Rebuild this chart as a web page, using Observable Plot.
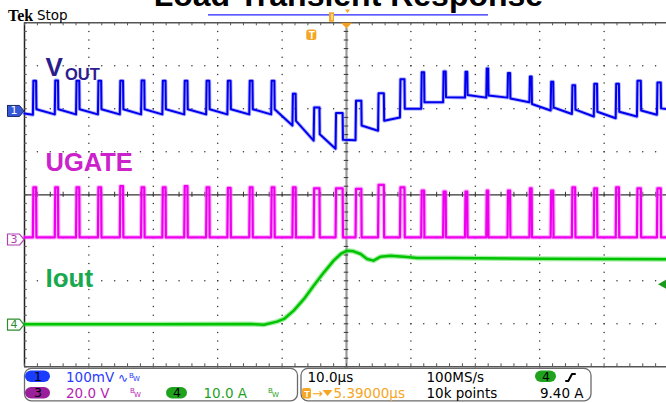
<!DOCTYPE html>
<html><head><meta charset="utf-8">
<script src="https://cdn.jsdelivr.net/npm/d3@7"></script>
<script src="https://cdn.jsdelivr.net/npm/@observablehq/plot@0.6"></script>
<style>html,body{margin:0;padding:0;background:#fff;overflow:hidden}</style>
</head><body><div id="chart"></div>
<script>
// ---------- DATA (read from the scope screen) ----------
// switching edges (µs, relative to screen centre) and UGATE on-time per pulse (µs)
const edgeT = [-48.7,-45.3,-42.0,-38.6,-35.2,-31.9,-28.6,-25.2,-21.8,-18.5,-15.1,-11.7,-8.4,-5.1,-1.7,
               1.4,4.9,8.3,11.6,15.0,18.4,21.7,25.0,28.4,31.7,35.0,38.4,41.8,45.1,48.2];
const onT   = [0.5,0.5,0.5,0.5,0.5,0.5,0.5,0.5,0.5,0.5,0.5,0.5,0.5,0.9,1.1,
               0.9,0.9,0.7,0.45,0.4,0.35,0.3,0.4,0.35,0.4,0.5,0.5,0.5,0.6,0.6];
// VOUT (ch1, 100 mV/div): level before each edge, spike peak, level after spike (mV)
const voutPre  = [-9,-8,-8,-8,-8,-8,-8,-8,-8,-8,-8,-8,-34,-69,-88,-68,-46,-15,5,20,31,31,31,20,1,-7,-13,-17,-13,-9];
const voutPeak = [70,71,70,70,70,71,70,70,70,70,70,70,40,8,-5,24,41,74,90,92,91,99,88,80,68,60,63,63,70,66];
const voutPost = [4,4,4,4,4,4,4,4,4,4,4,4,-23,-54,-67,-34,-23,5,20,32,37,36,29,16,8,3,-2,-2,1,6];
const voutStart = -6, voutEnd = 4;
// UGATE (ch3, 20 V/div): high level of each pulse (V), low level (V)
const ugHigh = [24.3,24.3,24.3,24.3,24.8,24.3,24.3,24.8,24.3,24.0,24.3,24.3,24.3,23.8,23.8,
                23.6,25.4,24.3,22.8,22.3,22.3,22.8,22.8,23.8,22.8,24.3,23.8,24.3,23.8,23.8];
const ugLow = 1.0;
// Iout (ch4, 10 A/div)
const ioutT = [-50,-30,-14.9,-12.8,-10.8,-9.7,-8.2,-6.6,-5.1,-3.5,-2.0,-0.9,0.1,1.1,2.2,3.2,4.2,5.3,6.8,8.9,11.0,16.1,30,50];
const ioutA = [0.1,0.1,0.16,0.0,0.7,1.33,3.26,5.98,9.07,12.17,14.89,16.44,17.21,17.05,16.44,15.28,14.89,15.82,16.05,15.82,15.51,15.51,15.3,15.2];
// channel settings
const ch1 = {scale: 100, offset: 1.95};   // mV/div, divisions
const ch3 = {scale: 20, offset: -1.04};   // V/div
const ch4 = {scale: 10, offset: -3.02};   // A/div
const trigOffset = -5.39;                 // µs
const trigLevel = 9.40;                   // A
const gridT = [-40,-30,-20,-10,10,20,30,40];
const gridV = [-3,-2,-1,1,2,3];

// ---------- build traces ----------
function pulseTrain(pre, peak, post, start, end) {
  const pts = [{t: -50, v: start}];
  edgeT.forEach((e, i) => {
    pts.push({t: e, v: pre[i]});
    pts.push({t: e + 0.08, v: peak[i]});
    pts.push({t: e + onT[i], v: peak[i]});
    pts.push({t: e + onT[i] + 0.05, v: post[i]});
  });
  pts.push({t: 50, v: end});
  return pts;
}
const voutPts = pulseTrain(voutPre, voutPeak, voutPost, voutStart, voutEnd);
const lows = edgeT.map(() => ugLow);
const ugPts = pulseTrain(lows, ugHigh, lows, ugLow, ugLow);
const ioutPts = ioutT.map((t, i) => ({t, v: ioutA[i]}));

const minorT = d3.range(-50, 50.001, 2);
const minorV = d3.range(-4, 4.001, 0.2);
// dot positions along each grid line (one every 1/5 division)
const gridDotsV = gridT.flatMap(t => minorV.map(v => ({t, v})));
const gridDotsH = gridV.flatMap(v => minorT.map(t => ({t, v})));

// screen helpers for the scope's chrome (pixel -> screen units)
const X = px => (px - 346) / 6.44;
const Y = py => (194.3 - py) / 43;

const SANS = "Liberation Sans, Arial, sans-serif";
const DJ = "DejaVu Sans, sans-serif";
const txt = (s, t, v, o = {}) => Plot.text([s], {x: t, y: v, text: d => d, textAnchor: "start", lineAnchor: "bottom",
  fontFamily: DJ, fontSize: 13.5, fill: "#000", ...o});
const poly = (pts, o) => Plot.line(pts.map(([a, b]) => ({t: a, v: b})), {x: "t", y: "v", stroke: "none", ...o});
const box = (x1, x2, y1, y2, o) => Plot.rect([0], {x1, x2, y1, y2, ...o});
function marker(off, label, o) {
  const c = off, h = 5.5 / 43, l = X(7), r = X(19), tip = X(23.5);
  return [
    poly([[l, c + h], [r, c + h], [tip, c], [r, c - h], [l, c - h], [l, c + h]], o.shape),
    txt(label, X(13.5), c, {textAnchor: "middle", lineAnchor: "middle", fontSize: 11, fill: o.text})
  ];
}
function oval(x1, x2, y1, y2, fill, label) {
  return [box(X(x1), X(x2), Y(y1), Y(y2), {rx: 6, fill}),
          txt(label, X((x1 + x2) / 2), Y((y1 + y2) / 2), {textAnchor: "middle", lineAnchor: "middle", fontSize: 12.5})];
}
const bw = (px, row, fill) => [
  txt("B", X(px), Y(row === 1 ? 377 : 392.5), {fontSize: 7, fill}),
  txt("W", X(px + 4), Y(row === 1 ? 380.5 : 396.5), {fontSize: 7, fill})
];
const R1 = Y(381), R2 = Y(397.3);
const ORANGE = "#f5a623";

const chart = Plot.plot({
  width: 666, height: 403, margin: 0,
  x: {domain: [-50, 50], range: [24, 668], axis: null},
  y: {domain: [-4, 4], range: [366.3, 22.3], axis: null},
  marks: [
    // graticule: dotted division lines
    Plot.dot(gridDotsV, {x: "t", y: "v", r: 0.75, fill: "#333", stroke: "none"}),
    Plot.dot(gridDotsH, {x: "t", y: "v", r: 0.75, fill: "#333", stroke: "none"}),
    Plot.ruleX([0], {y1: -4, y2: Y(28), stroke: "#9a9a9a", strokeWidth: 2.2}),
    Plot.ruleY([0], {x1: -50, x2: 50, stroke: "#333", strokeWidth: 1.3}),
    Plot.ruleX(minorT, {y1: -0.06, y2: 0.06, stroke: "#333"}),
    Plot.ruleY(minorV, {x1: -0.35, x2: 0.35, stroke: "#333"}),
    Plot.ruleY([4, -4], {x1: -50, x2: 50, stroke: "#555", strokeWidth: 1.5}),
    Plot.ruleX([-50], {y1: -4, y2: 4, stroke: "#222", strokeWidth: 1.5}),
    Plot.ruleX(minorT, {y1: 4, y2: 3.93, stroke: "#555"}),
    Plot.ruleX(minorT, {y1: -4, y2: -3.93, stroke: "#555"}),
    Plot.ruleY(minorV, {x1: -50, x2: -49.55, stroke: "#555"}),
    // traces
    Plot.line(ioutPts, {x: "t", y: d => ch4.offset + d.v / ch4.scale, stroke: "#55dd55", strokeWidth: 5, strokeOpacity: 0.55}),
    Plot.line(ioutPts, {x: "t", y: d => ch4.offset + d.v / ch4.scale, stroke: "#00c400", strokeWidth: 2.5}),
    Plot.line(ugPts, {x: "t", y: d => ch3.offset + d.v / ch3.scale, stroke: "#ff77ff", strokeWidth: 4.5, strokeOpacity: 0.5}),
    Plot.line(ugPts, {x: "t", y: d => ch3.offset + d.v / ch3.scale, stroke: "#ee00ee", strokeWidth: 2.2}),
    Plot.line(voutPts, {x: "t", y: d => ch1.offset + d.v / ch1.scale, stroke: "#6f6fff", strokeWidth: 3.8, strokeOpacity: 0.5}),
    Plot.line(voutPts, {x: "t", y: d => ch1.offset + d.v / ch1.scale, stroke: "#0000ee", strokeWidth: 2}),
    // channel labels
    txt("V", X(45), Y(75), {fontFamily: SANS, fontWeight: "bold", fontSize: 26, fill: "#2b1d8e"}),
    txt("OUT", X(64.5), Y(79.3), {fontFamily: SANS, fontWeight: "bold", fontSize: 16.5, fill: "#2b1d8e"}),
    txt("UGATE", X(45), Y(170), {fontFamily: SANS, fontWeight: "bold", fontSize: 25.5, fill: "#cc22cc"}),
    txt("Iout", X(45), Y(286.7), {fontFamily: SANS, fontWeight: "bold", fontSize: 26, fill: "#18a84e"}),
    // channel ground markers
    ...marker(ch1.offset, "1", {shape: {fill: "#3458d6", stroke: "#1b2a6b", strokeWidth: 1}, text: "#fff"}),
    ...marker(ch3.offset, "3", {shape: {fill: "#fff", stroke: "#b040b0", strokeWidth: 1.2}, text: "#b040b0"}),
    ...marker(ch4.offset, "4", {shape: {fill: "#fff", stroke: "#2e8b2e", strokeWidth: 1.2}, text: "#2e8b2e"}),
    // ch4 trigger level arrow
    poly([[X(657.5), ch4.offset + trigLevel / ch4.scale], [X(665.5), ch4.offset + trigLevel / ch4.scale + 0.105],
          [X(665.5), ch4.offset + trigLevel / ch4.scale - 0.105]], {fill: "#1a9a1a"}),
    // trigger markers
    poly([[X(340.5), 4], [X(351.5), 4], [0, Y(28)]], {fill: "#f5a020"}),
    box(trigOffset - 0.78, trigOffset + 0.78, Y(29.5), Y(40), {rx: 2.5, fill: ORANGE}),
    txt("T", trigOffset, Y(34.8), {textAnchor: "middle", lineAnchor: "middle", fontFamily: SANS, fontWeight: "bold", fontSize: 10, fill: "#fff"}),
    // top bar
    txt("Load Transient Response", 0.3, Y(5), {textAnchor: "middle", fontFamily: SANS, fontWeight: "bold", fontSize: 32}),
    txt("Tek", X(7.5), Y(20), {fontFamily: "Liberation Serif, serif", fontWeight: "bold", fontSize: 16}),
    txt("Stop", X(36.5), Y(19.7), {fontSize: 13.5}),
    Plot.ruleY([Y(14.3)], {x1: X(208), x2: X(488), stroke: "#2424ff", strokeWidth: 1.3}),
    box(X(329), X(334), Y(12.3), Y(21.7), {fill: ORANGE}),
    Plot.ruleX([X(331.5)], {y1: Y(14), y2: Y(20), stroke: "#fff"}),
    poly([[X(344.5), Y(9)], [X(349.5), Y(9)], [X(347), Y(12.5)]], {fill: ORANGE}),
    // status bar
    box(X(24.5), X(297.5), Y(368.3), Y(400.8), {rx: 7, fill: "none", stroke: "#6b6b6b", strokeWidth: 1.3}),
    box(X(301), X(591), Y(368.3), Y(400.8), {rx: 7, fill: "none", stroke: "#6b6b6b", strokeWidth: 1.3}),
    ...oval(25, 50, 370.5, 382, "#1a3cff", "1"),
    ...oval(25, 50, 387, 398.5, "#9a1f9a", "3"),
    ...oval(166, 187, 387, 398.5, "#1fa31f", "4"),
    ...oval(535, 556, 370.5, 382, "#1fa31f", "4"),
    txt("100mV", X(65.5), R1, {fill: "#2b3bff"}),
    txt("∿", X(117.5), R1, {fill: "#2b3bff", fontSize: 12}),
    ...bw(128.5, 1, "#2b3bff"),
    txt("20.0 V", X(65.5), R2, {fill: "#b51fb5"}),
    ...bw(129.5, 2, "#b51fb5"),
    txt("10.0 A", X(203), R2, {fill: "#1f9f1f"}),
    ...bw(267.5, 2, "#1f9f1f"),
    txt("10.0µs", X(307), R1),
    txt("100MS/s", X(426), R1),
    txt("10k points", X(426), R2),
    txt("9.40 A", X(583), R2, {textAnchor: "end"}),
    Plot.line([[565.5, 380.5], [567.8, 380.5], [571.5, 373.5], [574.5, 373.5]].map(([a, b]) => ({t: X(a), v: Y(b)})),
      {x: "t", y: "v", stroke: "#000", strokeWidth: 2}),
    box(X(302), X(311), Y(388), Y(398.5), {rx: 2, fill: ORANGE}),
    txt("T", X(306.5), Y(393.3), {textAnchor: "middle", lineAnchor: "middle", fontFamily: SANS, fontWeight: "bold", fontSize: 9, fill: "#fff"}),
    txt("→", X(311.5), Y(397), {fill: ORANGE, fontSize: 13}),
    poly([[X(322), Y(389.5)], [X(332), Y(389.5)], [X(327), Y(395.5)]], {fill: ORANGE}),
    txt("5.39000µs", X(333), R2, {fill: ORANGE})
  ]
});
document.getElementById("chart").appendChild(chart);
</script>
</body></html>
